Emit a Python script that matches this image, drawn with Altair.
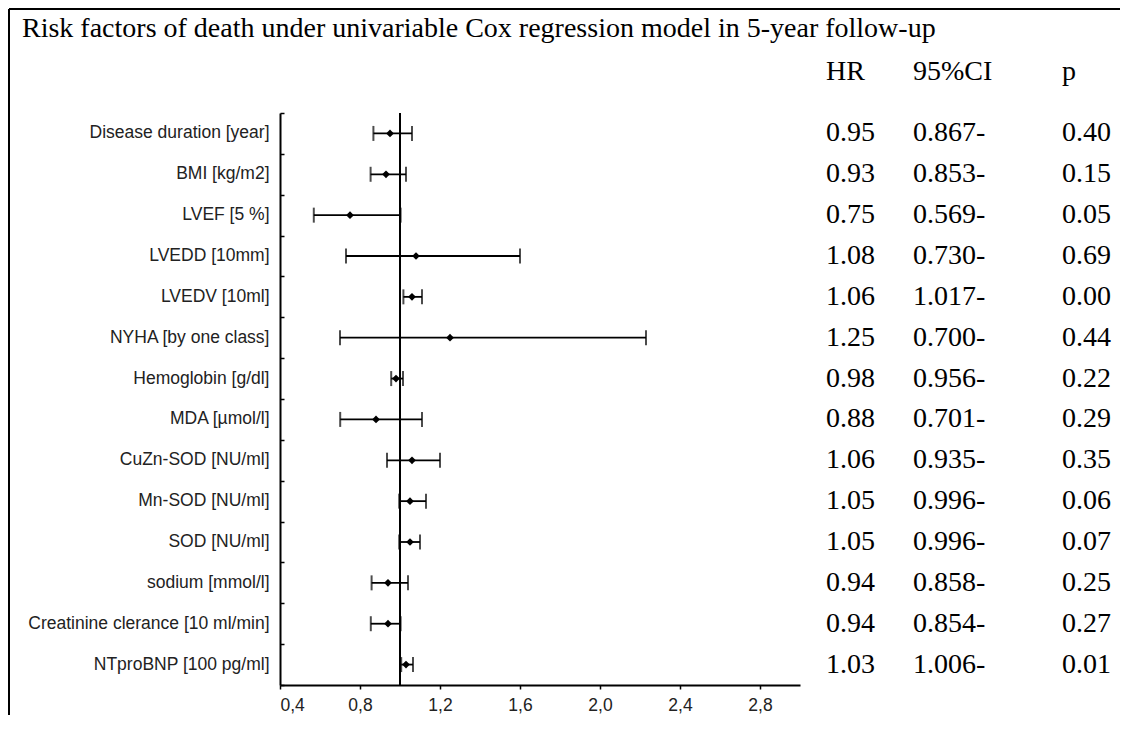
import altair as alt
import pandas as pd

# ---- data ----
factors = [
    "Disease duration [year]", "BMI [kg/m2]", "LVEF [5 %]", "LVEDD [10mm]",
    "LVEDV [10ml]", "NYHA [by one class]", "Hemoglobin [g/dl]", "MDA [µmol/l]",
    "CuZn-SOD [NU/ml]", "Mn-SOD [NU/ml]", "SOD [NU/ml]", "sodium [mmol/l]",
    "Creatinine clerance [10 ml/min]", "NTproBNP [100 pg/ml]",
]
hr = [0.95, 0.93, 0.75, 1.08, 1.06, 1.25, 0.98, 0.88, 1.06, 1.05, 1.05, 0.94, 0.94, 1.03]
ci_low = [0.867, 0.853, 0.569, 0.730, 1.017, 0.700, 0.956, 0.701, 0.935, 0.996, 0.996, 0.858, 0.854, 1.006]
ci_high = [1.06, 1.03, 1.003, 1.60, 1.11, 2.23, 1.015, 1.11, 1.20, 1.13, 1.10, 1.04, 1.003, 1.065]
hr_text = ["0.95", "0.93", "0.75", "1.08", "1.06", "1.25", "0.98", "0.88", "1.06", "1.05", "1.05", "0.94", "0.94", "1.03"]
ci_text = ["0.867-", "0.853-", "0.569-", "0.730-", "1.017-", "0.700-", "0.956-", "0.701-", "0.935-", "0.996-", "0.996-", "0.858-", "0.854-", "1.006-"]
p_text = ["0.40", "0.15", "0.05", "0.69", "0.00", "0.44", "0.22", "0.29", "0.35", "0.06", "0.07", "0.25", "0.27", "0.01"]
x_ticks = [0.4, 0.8, 1.2, 1.6, 2.0, 2.4, 2.8]
x_domain = [0.4, 3.0]
reference_hr = 1.0
title_text = "Risk factors of death under univariable Cox regression model in 5-year follow-up"
headers = ["HR", "95%CI", "p"]

df = pd.DataFrame({
    "factor": factors, "hr": hr, "lo": ci_low, "hi": ci_high,
    "hr_t": hr_text, "ci_t": ci_text, "p_t": p_text,
})
one = pd.DataFrame({"k": [0]})

W, H = 520, 572
SANS = "Liberation Sans"
SERIF = "Liberation Serif"

xscale = alt.Scale(domain=x_domain, nice=False, zero=False)
yscale = alt.Scale(type="band", domain=factors, paddingInner=0, paddingOuter=0)

x_axis = alt.Axis(
    title=None, values=x_ticks,
    labelExpr="replace(format(datum.value, '.1f'), '.', ',')",
    tickSize=4, tickColor="black", tickWidth=1.5,
    domainColor="black", domainWidth=2, grid=False,
    labelFont=SANS, labelFontSize=17.5, labelColor="#222", labelPadding=7,
)
y_axis = alt.Axis(
    title=None, orient="left", ticks=False, domainColor="black", domainWidth=2,
    labelFont=SANS, labelFontSize=17.5, labelColor="#222", labelPadding=11,
    labelLimit=400, grid=False,
)
y_tick_axis = alt.Axis(
    title=None, orient="left", labels=False, domain=False, ticks=True,
    tickBand="extent", tickSize=4, tickColor="black", tickWidth=1.5,
    offset=-4, grid=False,
)

base = alt.Chart(df)


def yenc(axis=None):
    return alt.Y("factor:N", scale=yscale, sort=factors, axis=axis)


ci_line = base.mark_rule(color="black", strokeWidth=1.8).encode(
    x=alt.X("lo:Q", scale=xscale, axis=x_axis), x2="hi:Q", y=yenc(y_axis))
cap_lo = base.mark_tick(color="black", size=15, thickness=2).encode(
    x=alt.X("lo:Q", scale=xscale), y=yenc())
cap_hi = base.mark_tick(color="black", size=15, thickness=2).encode(
    x=alt.X("hi:Q", scale=xscale), y=yenc())
pts = base.mark_point(shape="diamond", filled=True, size=60, color="black", opacity=1).encode(
    x=alt.X("hr:Q", scale=xscale), y=yenc())
ref = alt.Chart(one).mark_rule(color="black", strokeWidth=2).encode(
    x=alt.datum(reference_hr, type="quantitative"))

tick_layer = base.mark_point(opacity=0).encode(
    x=alt.X("hr:Q", scale=xscale), y=yenc(y_tick_axis))


def col(field, xpx):
    return base.mark_text(font=SERIF, fontSize=28, align="left", baseline="middle", color="black").encode(
        x=alt.value(xpx), y=yenc(), text=f"{field}:N")


hr_col = col("hr_t", 546)
ci_col = col("ci_t", 633)
p_col = col("p_t", 782)


def header(txt, xpx):
    return alt.Chart(one).mark_text(font=SERIF, fontSize=28, align="left", baseline="alphabetic", color="black").encode(
        x=alt.value(xpx), y=alt.value(-33), text=alt.value(txt))


h1 = header(headers[0], 546)
h2 = header(headers[1], 633)
h3 = header(headers[2], 782)

title = alt.Chart(one).mark_text(font=SERIF, fontSize=28, align="left", baseline="alphabetic", color="black").encode(
    x=alt.value(-258), y=alt.value(-76), text=alt.value(title_text))

frame_top = alt.Chart(one).mark_rule(color="black", strokeWidth=2).encode(
    x=alt.value(-271), x2=alt.value(840), y=alt.value(-104))
frame_left = alt.Chart(one).mark_rule(color="black", strokeWidth=2).encode(
    x=alt.value(-271), y=alt.value(-104), y2=alt.value(602))

chart = alt.layer(
    ci_line, tick_layer, cap_lo, cap_hi, ref, pts,
    hr_col, ci_col, p_col, h1, h2, h3, title, frame_top, frame_left,
).resolve_axis(y="independent").properties(
    width=W, height=H,
    autosize=alt.AutoSizeParams(type="none"),
    padding={"left": 272, "top": 105, "right": 320, "bottom": 30},
    background="white",
).configure_view(stroke=None)

chart.save("out.html", embed_options={"renderer": "svg", "actions": False})
